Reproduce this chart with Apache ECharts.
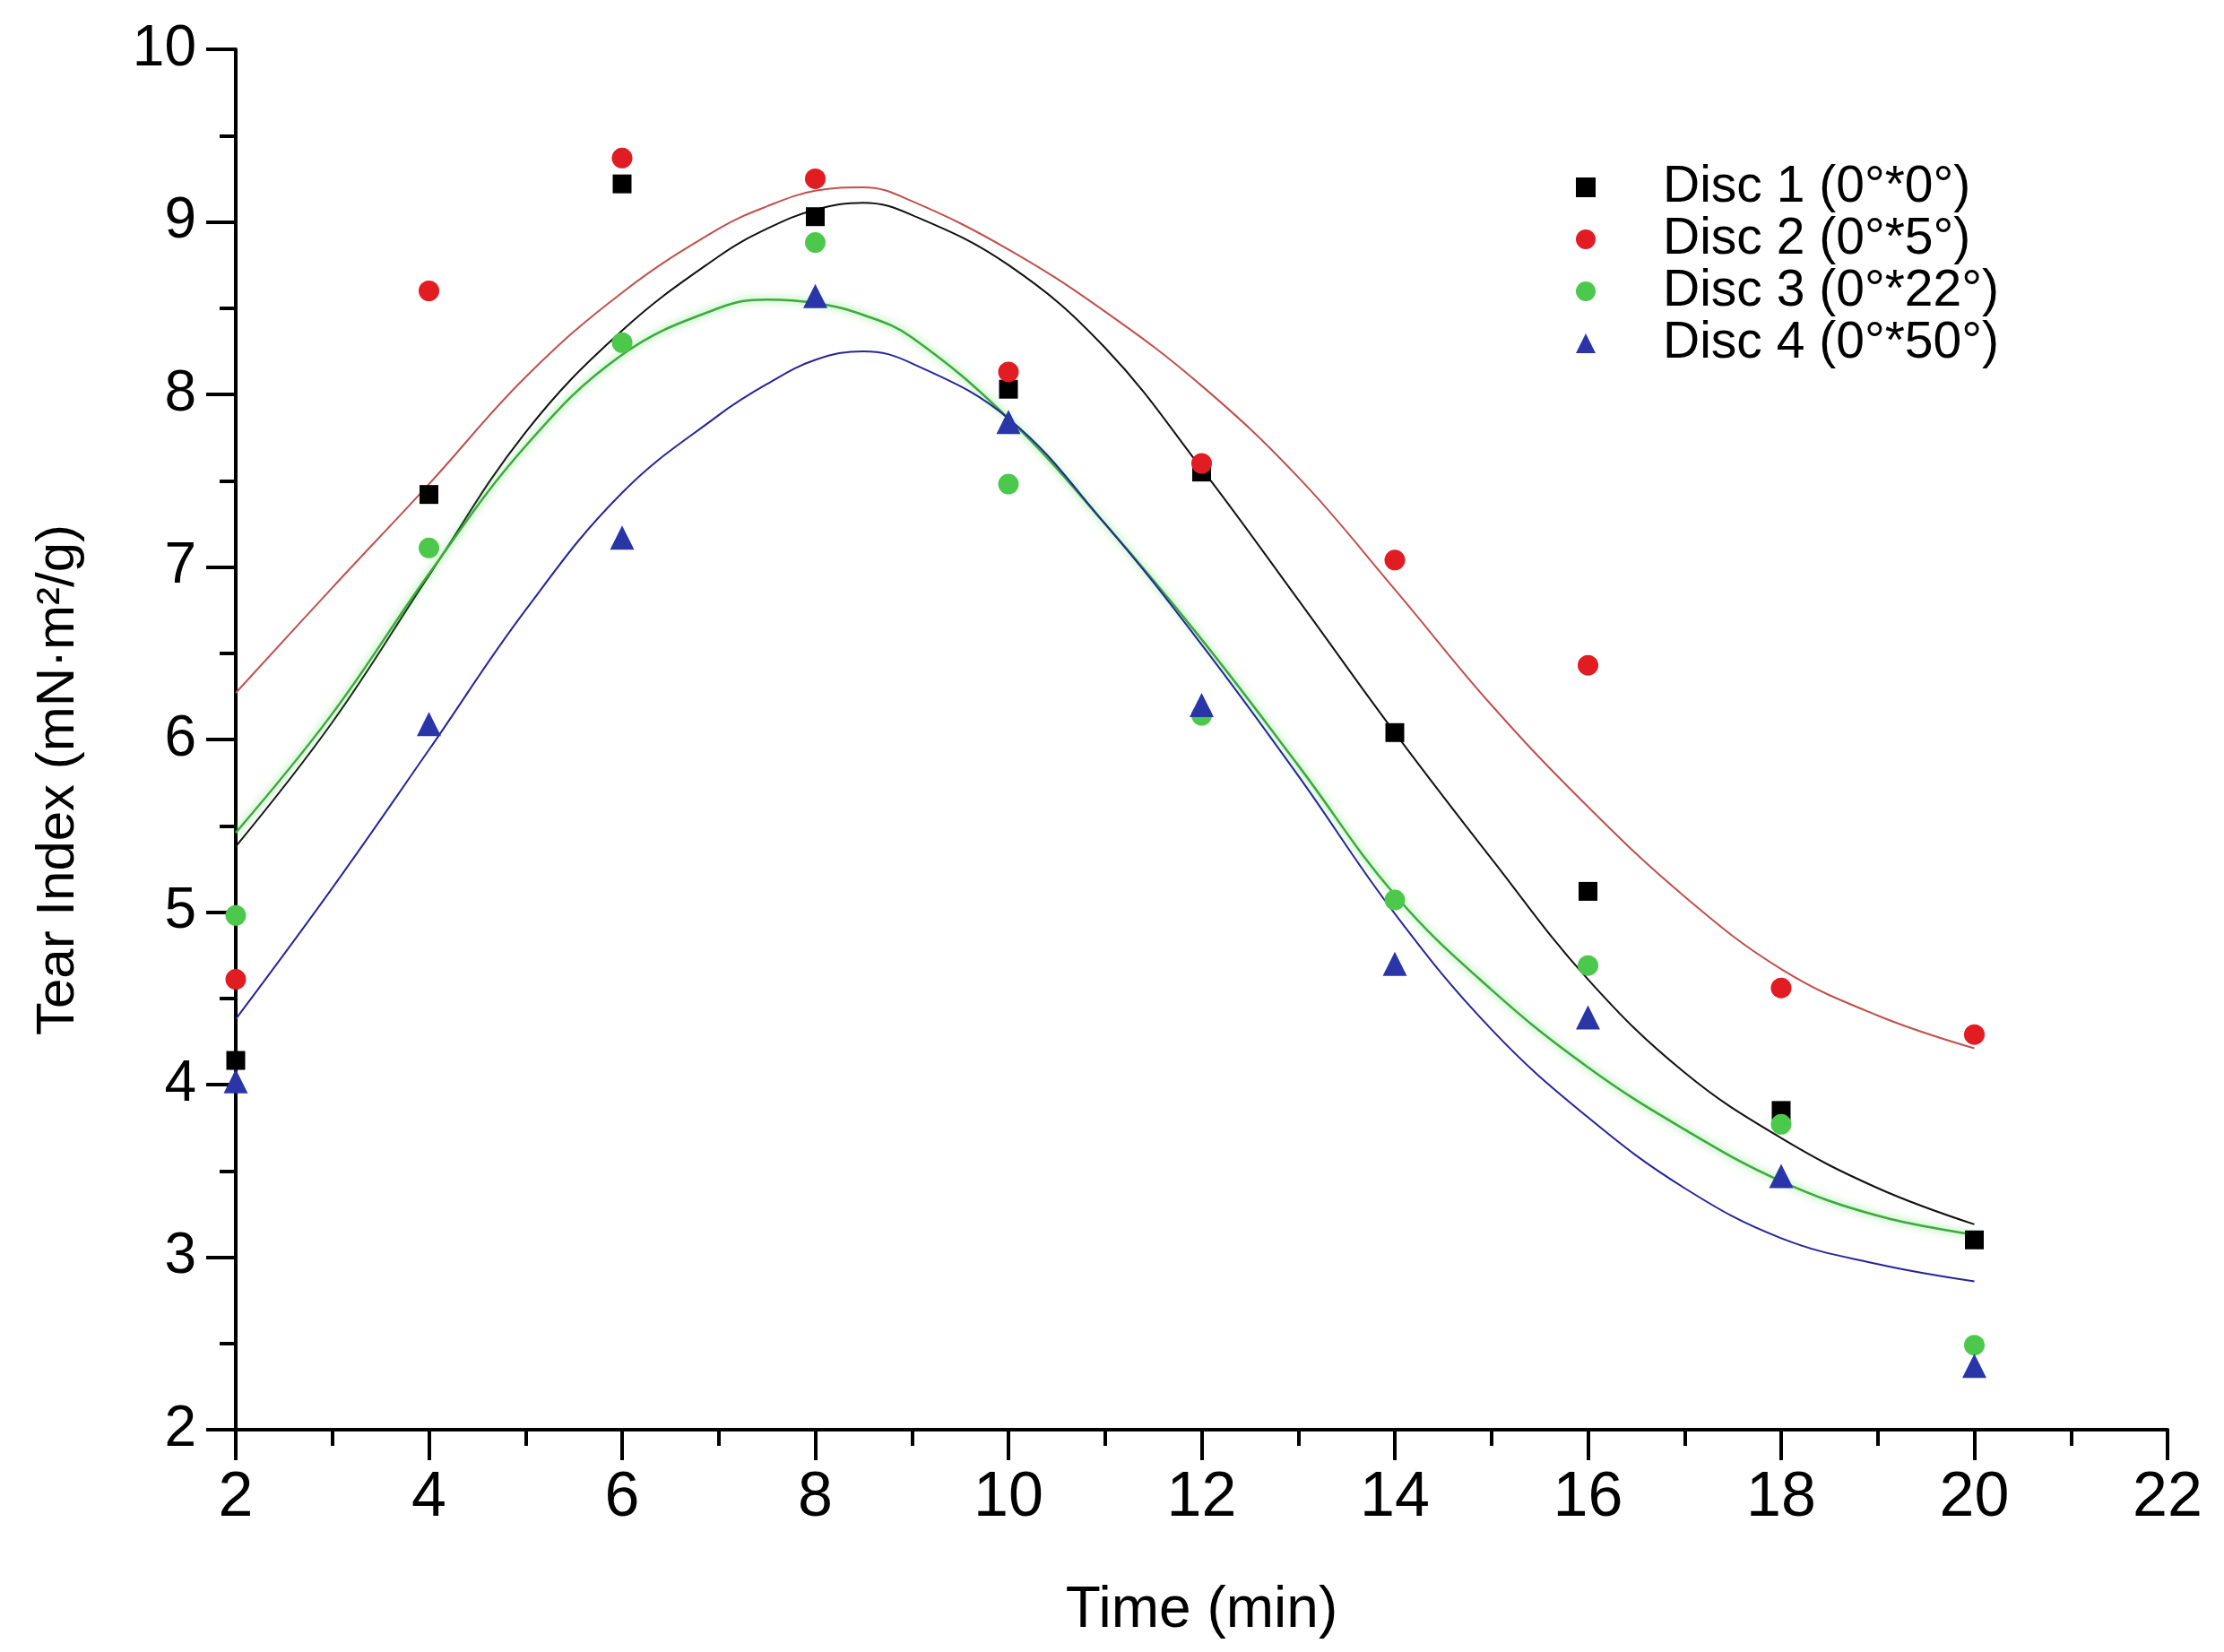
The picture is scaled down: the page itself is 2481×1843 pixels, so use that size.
<!DOCTYPE html>
<html>
<head>
<meta charset="utf-8">
<script src="https://cdn.jsdelivr.net/npm/echarts@6/dist/echarts.min.js"></script>
<style>
  html, body { margin: 0; padding: 0; background: #fff; }
  #chart { width: 2481px; height: 1843px; }
</style>
</head>
<body>
<div id="chart"></div>
<script>
// ---- data ----
const time = [2, 4, 6, 8, 10, 12, 14, 16, 18, 20];
const disc1 = [4.14, 7.42, 9.22, 9.03, 8.03, 7.55, 6.04, 5.12, 3.85, 3.10];
const disc2 = [4.61, 8.60, 9.37, 9.25, 8.13, 7.60, 7.04, 6.43, 4.56, 4.29];
const disc3 = [4.98, 7.11, 8.30, 8.88, 7.48, 6.14, 5.07, 4.69, 3.77, 2.49];
const disc4 = [4.02, 6.09, 7.17, 8.57, 7.84, 6.20, 4.70, 4.39, 3.47, 2.37];

// fitted curves
const fitTime = [2, 3, 4, 5, 6, 7, 7.5, 8, 8.5, 9, 10, 11, 12, 13, 14, 15, 16, 17, 18, 19, 20];
const fit1 = [5.38, 6.10, 6.95, 7.78, 8.37, 8.80, 8.96, 9.07, 9.11, 9.04, 8.75, 8.27, 7.57, 6.81, 6.04, 5.31, 4.61, 4.07, 3.69, 3.40, 3.19];
const fit2 = [6.27, 6.88, 7.48, 8.10, 8.59, 8.96, 9.09, 9.18, 9.20, 9.12, 8.84, 8.48, 8.05, 7.52, 6.87, 6.20, 5.61, 5.09, 4.67, 4.40, 4.21];
const fit3 = [5.46, 6.15, 6.96, 7.70, 8.23, 8.50, 8.55, 8.53, 8.46, 8.33, 7.86, 7.25, 6.58, 5.85, 5.10, 4.55, 4.10, 3.74, 3.44, 3.24, 3.13];
const fit4 = [4.38, 5.14, 5.94, 6.75, 7.43, 7.88, 8.06, 8.20, 8.25, 8.18, 7.86, 7.25, 6.55, 5.79, 4.99, 4.32, 3.81, 3.40, 3.11, 2.96, 2.86];

const names = ['Disc 1 (0°*0°)', 'Disc 2 (0°*5°)', 'Disc 3 (0°*22°)', 'Disc 4 (0°*50°)'];
const xTitle = 'Time (min)';
const yTitle = 'Tear Index (mN·m²/g)';

// ---- build ----
const zip = (xs, ys) => xs.map((x, i) => [x, ys[i]]);
const F = 'Liberation Sans, Arial, sans-serif';

const chart = echarts.init(document.getElementById('chart'), null, { renderer: 'canvas' });

function fitSeries(name, data, color, extra) {
  return Object.assign({
    name: name,
    type: 'line',
    data: data,
    smooth: 0.4,
    showSymbol: false,
    symbol: 'none',
    silent: true,
    z: 2,
    lineStyle: { color: color, width: 2 }
  }, extra || {});
}

function scatterSeries(name, data, symbol, size, color) {
  return {
    name: name,
    type: 'scatter',
    data: data,
    symbol: symbol,
    symbolSize: size,
    z: 5,
    itemStyle: { color: color, opacity: 1 }
  };
}

const option = {
  animation: false,
  backgroundColor: '#ffffff',
  grid: { left: 263, right: 63, top: 55, bottom: 248, containLabel: false },
  legend: {
    data: names,
    orient: 'vertical',
    left: 1753,
    top: 175,
    itemWidth: 22,
    itemHeight: 22,
    itemGap: 0,
    textStyle: { fontFamily: F, fontSize: 57, color: '#000', lineHeight: 58, padding: [0, 0, 0, 70] }
  },
  xAxis: {
    type: 'value',
    min: 2, max: 22, interval: 2,
    name: xTitle,
    nameLocation: 'middle',
    nameGap: 170,
    nameTextStyle: { fontFamily: F, fontSize: 64, color: '#000' },
    axisLine: { show: true, onZero: false, lineStyle: { color: '#000', width: 4 } },
    axisTick: { show: true, inside: false, length: 34, lineStyle: { color: '#000', width: 4 } },
    minorTick: { show: true, splitNumber: 2, length: 18, lineStyle: { color: '#000', width: 4 } },
    splitLine: { show: false },
    minorSplitLine: { show: false },
    axisLabel: { fontFamily: F, fontSize: 70, color: '#000', margin: 42 }
  },
  yAxis: {
    type: 'value',
    min: 2, max: 10, interval: 1,
    name: yTitle,
    nameLocation: 'middle',
    nameGap: 168,
    nameTextStyle: { fontFamily: F, fontSize: 60, color: '#000', padding: [0, 90, 0, 0] },
    axisLine: { show: true, onZero: false, lineStyle: { color: '#000', width: 4 } },
    axisTick: { show: true, inside: false, length: 33, lineStyle: { color: '#000', width: 4 } },
    minorTick: { show: true, splitNumber: 2, length: 18, lineStyle: { color: '#000', width: 4 } },
    splitLine: { show: false },
    minorSplitLine: { show: false },
    axisLabel: { fontFamily: F, fontSize: 64, color: '#000', margin: 44 }
  },
  series: [
    fitSeries('fit1', zip(fitTime, fit1), '#111111'),
    fitSeries('fit2', zip(fitTime, fit2), '#c0504d'),
    fitSeries('fit3', zip(fitTime, fit3), '#3caa3c', { lineStyle: { color: '#3caa3c', width: 2.5, shadowBlur: 8, shadowColor: 'rgba(90,220,90,0.9)' } }),
    fitSeries('fit4', zip(fitTime, fit4), '#25259a'),
    scatterSeries(names[0], zip(time, disc1), 'rect', 21, '#000000'),
    scatterSeries(names[1], zip(time, disc2), 'circle', 23, '#e21c23'),
    scatterSeries(names[2], zip(time, disc3), 'circle', 23, '#4cc94c'),
    scatterSeries(names[3], zip(time, disc4), 'triangle', 27, '#2a36a8')
  ]
};

chart.setOption(option);
</script>
</body>
</html>
